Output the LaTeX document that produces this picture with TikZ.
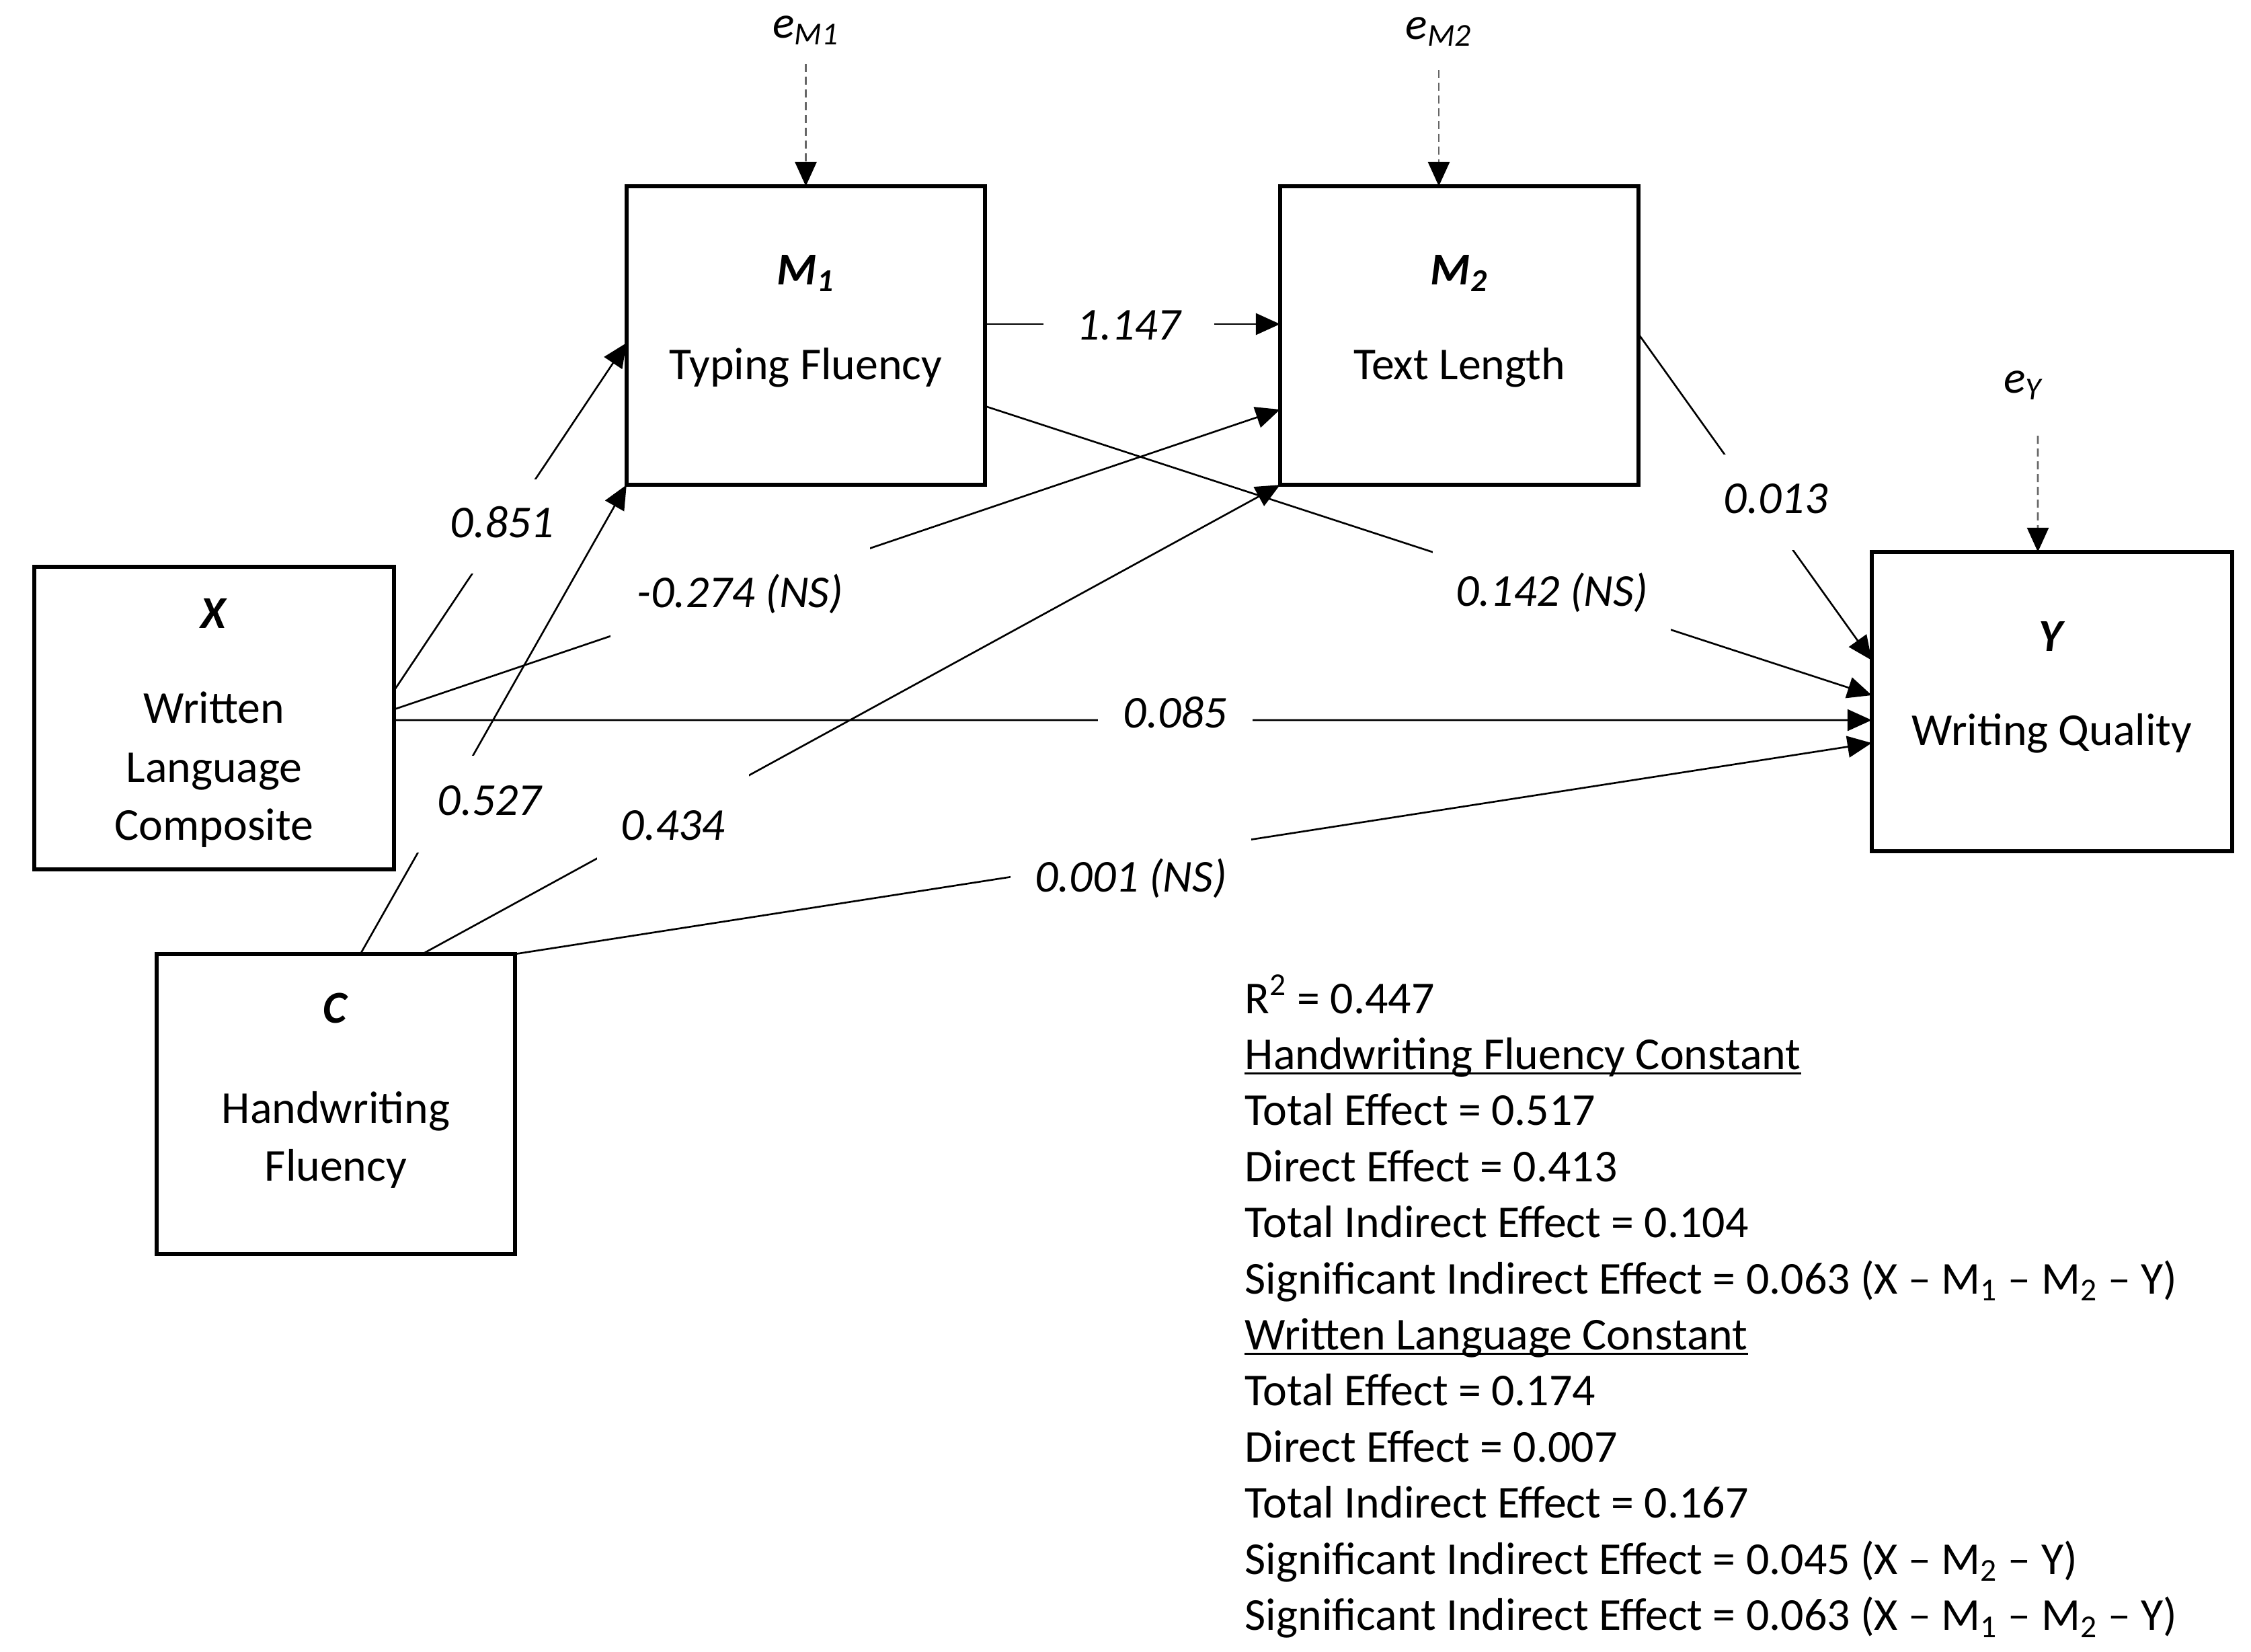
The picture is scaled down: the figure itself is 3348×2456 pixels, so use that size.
\documentclass[tikz,border=0pt]{standalone}
\usepackage{fontspec}
\setmainfont{Carlito}
\usetikzlibrary{arrows.meta}
\begin{document}
\begin{tikzpicture}[x=0.01cm,y=-0.01cm,
 box/.style={draw, line width=1.6pt, inner sep=0pt, outer sep=0pt, minimum width=5.33cm, minimum height=4.44cm},
 edge/.style={line width=0.75pt, -{Triangle[length=0.36cm,width=0.32cm]}},
 errarrow/.style={line width=0.75pt, draw=black!60, dash pattern=on 0.12cm off 0.07cm, -{Triangle[length=0.36cm,width=0.32cm,color=black]}},
 lab/.style={fill=white, anchor=base, font=\fontsize{19.3}{23}\selectfont\itshape, text height=12.4pt, text depth=3.5pt},
 txt/.style={anchor=base, inner sep=0pt, font=\fontsize{19.3}{23}\selectfont},
 stat/.style={anchor=base west, inner sep=0pt, font=\fontsize{19.3}{23}\selectfont},
 uline/.style={line width=0.85pt}
]
\useasboundingbox (0,0) rectangle (3348,2456);

% boxes
\node[box] (M1) at (1198.5,499) {};
\node[box] (M2) at (2170.5,499) {};
\node[box, minimum width=5.35cm, minimum height=4.50cm] (X) at (318.5,1068) {};
\node[box, minimum width=5.36cm, minimum height=4.45cm] (Y) at (3052,1043.5) {};
\node[box, minimum height=4.46cm] (C) at (499.5,1642) {};

% box texts
\node[txt] (M1t) at (1198.5,423) {\textbf{\textit{M\textsubscript{1}}}};
\node[txt] (M1l) at (1198.5,564) {Typing Fluency};
\node[txt] (M2t) at (2170.5,423) {\textbf{\textit{M\textsubscript{2}}}};
\node[txt] (M2l) at (2170.5,564) {Text Length};
\node[txt] (Xt) at (318.5,934) {\textbf{\textit{X}}};
\node[txt] (Xl1) at (318.5,1075) {Written};
\node[txt] (Xl2) at (318.5,1163) {Language};
\node[txt] (Xl3) at (318.5,1249) {Composite};
\node[txt] (Yt) at (3052,968) {\textbf{\textit{Y}}};
\node[txt] (Yl) at (3052,1108) {Writing Quality};
\node[txt] (Ct) at (499.5,1521) {\textbf{\textit{C}}};
\node[txt] (Cl1) at (499.5,1670) {Handwriting};
\node[txt] (Cl2) at (499.5,1756) {Fluency};

% error terms
\node[txt] (eM1) at (1198.5,56) {\textit{e\textsubscript{M1}}};
\node[txt] (eM2) at (2140,58) {\textit{e\textsubscript{M2}}};
\node[txt] (eY) at (3009,584) {\textit{e\textsubscript{Y}}};
\draw[errarrow] ([yshift=-0.39cm]eM1.base) -- (eM1.base |- M1.north);
\draw[errarrow] ([yshift=-0.46cm]eM2.base) -- (eM2.base |- M2.north);
\draw[errarrow] ([xshift=0.22cm,yshift=-0.64cm]eY.base) -- ([xshift=-0.21cm]Y.north);

% paths
\draw[edge] ([yshift=0.41cm]X.east) -- ([yshift=-0.11cm]M1.west);
\draw[edge] ([xshift=0.365cm]C.north) -- (M1.south west);
\draw[edge] ([yshift=0.13cm]X.east) -- ([yshift=-1.10cm]M2.west);
\draw[edge] ([xshift=1.285cm]C.north) -- (M2.south west);
\draw[edge] ([yshift=0.17cm]M1.east) -- ([yshift=0.17cm]M2.west);
\draw[edge] ([yshift=-1.05cm]M1.east) -- ([yshift=0.095cm]Y.west);
\draw[edge] ([yshift=0.02cm]M2.east) -- ([yshift=0.615cm]Y.west);
\draw[edge] ([yshift=-0.03cm]X.east) -- ([yshift=-0.275cm]Y.west);
\draw[edge] (C.north east) -- ([yshift=-0.615cm]Y.west);

% path labels
\node[lab, inner xsep=0.2cm, inner ysep=0.42cm] (l851) at (747,799) {0.851};
\node[lab, inner xsep=0.32cm, inner ysep=0.44cm] (l527) at (728,1212) {0.527};
\node[lab, inner xsep=0.36cm, inner ysep=0.55cm] (l434) at (1001,1249) {0.434};
\node[lab, inner xsep=0.40cm, inner ysep=0.48cm] (l274) at (1101,903) {-0.274 (NS)};
\node[lab, inner xsep=0.50cm, inner ysep=0.2cm] (l147) at (1679,505) {1.147};
\node[lab, inner xsep=0.34cm, inner ysep=0.40cm] (l142) at (2308,901) {0.142 (NS)};
\node[lab, inner xsep=0.15cm, inner ysep=0.43cm] (l013) at (2641,763) {0.013};
\node[lab, inner xsep=0.38cm, inner ysep=0.1cm] (l085) at (1748,1082) {0.085};
\node[lab, inner xsep=0.36cm, inner ysep=0.36cm] (l001) at (1682,1326) {0.001 (NS)};

% statistics
\node[stat] (s1) at (1851,1507) {R\textsuperscript{2} = 0.447};
\node[stat] (s2) at (1851,1590.4) {Handwriting Fluency Constant};
\node[stat] (s3) at (1851,1673.8) {Total Effect = 0.517};
\node[stat] (s4) at (1851,1757.2) {Direct Effect = 0.413};
\node[stat] (s5) at (1851,1840.6) {Total Indirect Effect = 0.104};
\node[stat] (s6) at (1851,1924) {Significant Indirect Effect = 0.063 (X – M\textsubscript{1} – M\textsubscript{2} – Y)};
\node[stat] (s7) at (1851,2007.4) {Written Language Constant};
\node[stat] (s8) at (1851,2090.8) {Total Effect = 0.174};
\node[stat] (s9) at (1851,2174.2) {Direct Effect = 0.007};
\node[stat] (s10) at (1851,2257.6) {Total Indirect Effect = 0.167};
\node[stat] (s11) at (1851,2341) {Significant Indirect Effect = 0.045 (X – M\textsubscript{2} – Y)};
\node[stat] (s12) at (1851,2424.4) {Significant Indirect Effect = 0.063 (X – M\textsubscript{1} – M\textsubscript{2} – Y)};
\draw[uline] ([yshift=-0.06cm]s2.base west) -- ([yshift=-0.06cm]s2.base east);
\draw[uline] ([yshift=-0.06cm]s7.base west) -- ([yshift=-0.06cm]s7.base east);
\end{tikzpicture}
\end{document}
